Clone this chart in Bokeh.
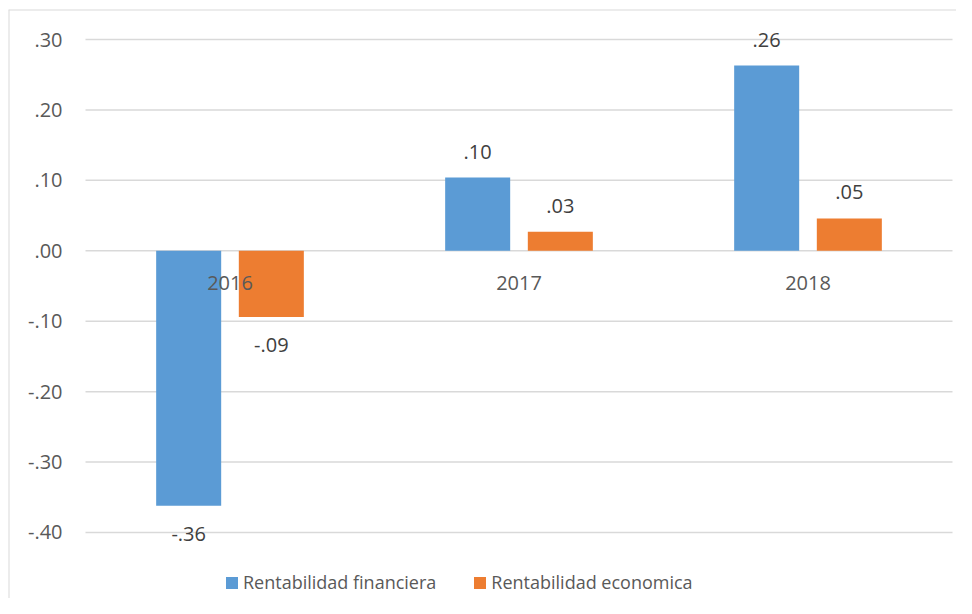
from bokeh.plotting import figure
from bokeh.models import ColumnDataSource, Range1d, Legend, LegendItem, Span
from bokeh.core.properties import value
from bokeh.embed import file_html
from bokeh.resources import INLINE

years = ["2016", "2017", "2018"]
fin = [-0.362, 0.104, 0.263]
eco = [-0.094, 0.027, 0.046]
fin_labels = ["-.36", ".10", ".26"]
eco_labels = ["-.09", ".03", ".05"]
series_names = ["Rentabilidad financiera", "Rentabilidad economica"]
ytick_values = [-0.4, -0.3, -0.2, -0.1, 0.0, 0.1, 0.2, 0.3]
ytick_labels = ["-.40", "-.30", "-.20", "-.10", ".00", ".10", ".20", ".30"]

BLUE = "#5b9bd5"
ORANGE = "#ed7d31"
FONT = "Open Sans"
GRID = "#d9d9d9"
DODGE = 0.143
BAR_W = 0.225

n = len(years)
idx = list(range(n))

def base(vals):
    return ["bottom" if v >= 0 else "top" for v in vals]

def offs(vals):
    return [-19 if v >= 0 else 21 for v in vals]

src = ColumnDataSource(dict(
    i=idx, fin_x=[k - DODGE for k in idx], eco_x=[k + DODGE for k in idx],
    year=years, fin=fin, eco=eco, zero=[0] * n,
    fin_lbl=fin_labels, eco_lbl=eco_labels,
    fin_base=base(fin), eco_base=base(eco),
    fin_off=offs(fin), eco_off=offs(eco),
))
tick_src = ColumnDataSource(dict(
    y=ytick_values, lbl=ytick_labels,
    x0=[-0.5] * len(ytick_values), x1=[n - 0.5] * len(ytick_values),
))

# plot-area geometry (pixels): category width 289, 0.1 units = 70.4 px
PX_X = 289.0
PX_Y = 704.0
x_start = -0.5 - 77 / PX_X
x_end = n - 0.5 + 4 / PX_X
y_end = 0.3 + 30 / PX_Y
y_start = -0.4 - 66 / PX_Y

p = figure(width=956, height=598, output_backend="svg", toolbar_location=None,
           x_range=Range1d(x_start, x_end), y_range=Range1d(y_start, y_end),
           x_axis_location=None, y_axis_location=None,
           min_border_left=8, min_border_right=0, min_border_top=9, min_border_bottom=0)
p.outline_line_color = None
p.background_fill_color = "white"
p.border_fill_color = "white"
p.xgrid.grid_line_color = None
p.ygrid.grid_line_color = None

# chart border (top and left)
p.add_layout(Span(location=x_start, dimension="height", line_color=GRID, line_width=2))
p.add_layout(Span(location=y_end, dimension="width", line_color=GRID, line_width=2))

# gridlines + value axis labels
p.segment(x0="x0", x1="x1", y0="y", y1="y", source=tick_src, line_color=GRID, line_width=1.5)
p.text(x="x0", y="y", text="lbl", source=tick_src, x_offset=-23, text_align="right",
       text_baseline="middle", text_font=value(FONT), text_font_size="20px", text_color="#595959")

r1 = p.vbar(x="fin_x", top="fin", bottom="zero", width=BAR_W,
            source=src, fill_color=BLUE, line_color=None)
r2 = p.vbar(x="eco_x", top="eco", bottom="zero", width=BAR_W,
            source=src, fill_color=ORANGE, line_color=None)

# category labels at the zero line
p.text(x="i", y="zero", text="year", source=src, text_align="center", text_baseline="middle",
       y_offset=32, text_font=value(FONT), text_font_size="20px", text_color="#595959")

# data labels
p.text(x="fin_x", y="fin", text="fin_lbl", source=src,
       text_align="center", text_baseline="fin_base", y_offset="fin_off",
       text_font=value(FONT), text_font_size="20px", text_color="#404040")
p.text(x="eco_x", y="eco", text="eco_lbl", source=src,
       text_align="center", text_baseline="eco_base", y_offset="eco_off",
       text_font=value(FONT), text_font_size="20px", text_color="#404040")

legend = Legend(items=[LegendItem(label=series_names[0], renderers=[r1]),
                       LegendItem(label=series_names[1], renderers=[r2])],
                orientation="horizontal", location=(216, 4),
                glyph_width=15, glyph_height=15, label_standoff=4, spacing=36,
                padding=0, margin=0, border_line_color=None, background_fill_alpha=0,
                label_text_font=FONT, label_text_font_size="18px", label_text_color="#595959",
                label_height=20)
p.add_layout(legend)

open("out.html", "w").write(file_html(p, INLINE))
